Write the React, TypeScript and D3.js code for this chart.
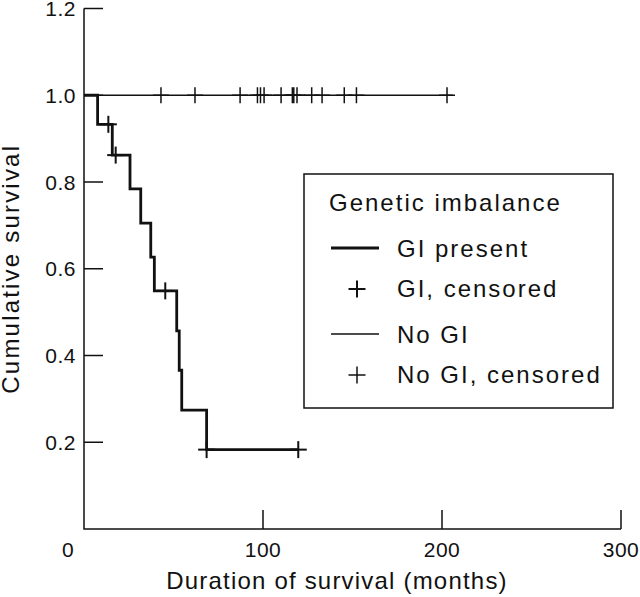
import React from "react";
import * as d3 from "d3";

// ---- Data ----
// GI present: Kaplan–Meier step curve (time in months, cumulative survival)
const giStepTimes = [0, 7.6, 15.8, 25.7, 31.7, 37.3, 39.3, 51.8, 53.2, 54.6, 68.5, 119.7];
const giStepSurv = [1.0, 0.933, 0.862, 0.784, 0.705, 0.627, 0.549, 0.457, 0.366, 0.274, 0.183, 0.183];
// GI censored observations
const giCensorTimes = [13.6, 17.7, 45.4, 68.5, 119.7];
const giCensorSurv = [0.933, 0.862, 0.549, 0.183, 0.183];
// No GI: flat at 1.0 until last follow-up
const noGiStepTimes = [0, 206];
const noGiStepSurv = [1.0, 1.0];
const noGiCensorTimes = [43.0, 62.0, 87.2, 96.9, 98.6, 100.6, 110.1, 116.4, 117.2, 119.0, 127.2, 133.0, 145.4, 152.2, 202.8];
const noGiCensorSurv = noGiCensorTimes.map(() => 1.0);

const xTicks = [100, 200, 300];
const yTicks = [0.2, 0.4, 0.6, 0.8, 1.0, 1.2];
const legendItems = ["GI present", "GI, censored", "No GI", "No GI, censored"];

const W = 640;
const H = 597;
const FONT = "'Liberation Sans', Arial, Helvetica, sans-serif";
const INK = "#111";

export default function App() {
  const x = d3.scaleLinear().domain([0, 300]).range([84, 621]);
  const y = d3.scaleLinear().domain([0, 1.2]).range([529, 8.5]);

  const stepLine = d3
    .line<[number, number]>()
    .x((d) => x(d[0]))
    .y((d) => y(d[1]))
    .curve(d3.curveStepAfter);

  const giPts: [number, number][] = giStepTimes.map((t, i) => [t, giStepSurv[i]]);
  const noGiPts: [number, number][] = noGiStepTimes.map((t, i) => [t, noGiStepSurv[i]]);

  const plus = (cx: number, cy: number, s: number, sw: number, key: string) => (
    <g key={key} stroke={INK} strokeWidth={sw}>
      <line x1={cx - s} x2={cx + s} y1={cy} y2={cy} />
      <line x1={cx} x2={cx} y1={cy - s} y2={cy + s} />
    </g>
  );

  const [x0, x1] = x.range();
  const [y0, y1] = y.range();

  return (
    <svg width={W} height={H} style={{ position: "absolute", left: 0, top: 0, background: "#fff" }} fontFamily={FONT}>
      <rect x={0} y={0} width={W} height={H} fill="#fff" />
      {/* axes */}
      <g stroke={INK} strokeWidth={1.5} fill="none">
        <path d={`M${x0},${y1}V${y0}H${x1}`} />
        {yTicks.map((t) => (
          <line key={"yt" + t} x1={x0} x2={x0 + 19} y1={y(t)} y2={y(t)} />
        ))}
        {xTicks.map((t) => (
          <line key={"xt" + t} x1={x(t)} x2={x(t)} y1={y0} y2={y0 - 19} />
        ))}
      </g>
      {/* tick labels */}
      <g fill={INK} fontSize={21} letterSpacing={0.5}>
        {yTicks.map((t) => (
          <text key={"yl" + t} x={76} y={y(t)} dy="0.36em" textAnchor="end">
            {t.toFixed(1)}
          </text>
        ))}
        <text x={68} y={557} textAnchor="middle">0</text>
        {xTicks.map((t) => (
          <text key={"xl" + t} x={x(t)} y={557} textAnchor="middle">
            {t}
          </text>
        ))}
      </g>
      {/* axis titles */}
      <text x={337} y={589} textAnchor="middle" fontSize={24} letterSpacing={1.2} fill={INK}>
        Duration of survival (months)
      </text>
      <text
        transform={`translate(19,${(y0 + y1) / 2}) rotate(-90)`}
        textAnchor="middle"
        fontSize={24}
        letterSpacing={2.2}
        fill={INK}
      >
        Cumulative survival
      </text>
      {/* curves */}
      <path d={stepLine(noGiPts) || ""} fill="none" stroke={INK} strokeWidth={1.5} />
      <path d={stepLine(giPts) || ""} fill="none" stroke={INK} strokeWidth={2.8} />
      {noGiCensorTimes.map((t, i) => plus(x(t), y(noGiCensorSurv[i]), 8, 1.5, "nc" + i))}
      {giCensorTimes.map((t, i) => plus(x(t), y(giCensorSurv[i]), 8.5, 2, "gc" + i))}
      {/* legend */}
      <rect x={304} y={174} width={309} height={234} fill="#fff" stroke={INK} strokeWidth={1.5} />
      <g fill={INK} fontSize={24} letterSpacing={2}>
        <text x={329} y={211}>Genetic imbalance</text>
        <text x={397} y={257}>{legendItems[0]}</text>
        <text x={397} y={297}>{legendItems[1]}</text>
        <text x={397} y={343}>{legendItems[2]}</text>
        <text x={397} y={383}>{legendItems[3]}</text>
      </g>
      <line x1={331} x2={379} y1={248} y2={248} stroke={INK} strokeWidth={2.8} />
      {plus(357, 289, 8.5, 2, "lg1")}
      <line x1={331} x2={379} y1={334} y2={334} stroke={INK} strokeWidth={1.5} />
      {plus(357, 375, 8.5, 1.5, "lg2")}
    </svg>
  );
}
